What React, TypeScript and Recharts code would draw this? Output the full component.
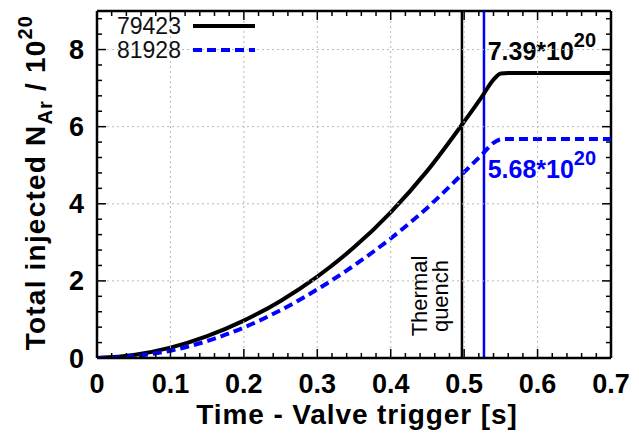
import React from "react";
import { LineChart, Line, XAxis, YAxis, ReferenceLine, ReferenceDot, Legend } from "recharts";

const FONT = "'Liberation Sans', Arial, Helvetica, sans-serif";
const BLUE = "#0000ff";

// time after valve trigger [s]
const times = [0, 0.05, 0.1, 0.15, 0.2, 0.25, 0.3, 0.35, 0.4, 0.45, 0.5, 0.525, 0.54, 0.55, 0.56, 0.7];
// total injected Ar atoms / 1e20
const shot79423 = [0, 0.08, 0.27, 0.57, 0.97, 1.48, 2.11, 2.87, 3.78, 4.86, 6.13, 6.8, 7.22, 7.38, 7.39, 7.39];
const shot81928 = [0, 0.05, 0.19, 0.44, 0.79, 1.24, 1.78, 2.4, 3.1, 3.9, 4.82, 5.29, 5.58, 5.67, 5.68, 5.68];

const seriesNames = ["79423", "81928"];
const seriesColors = ["#000000", BLUE];
const seriesDash = [undefined, "9 5"];

const quenchTimes = [0.497, 0.527];
const finalTotals = [7.39, 5.68];
const finalLabels = ["7.39*10", "5.68*10"];
const annotationTime = 0.532;

const xDomain = [0, 0.7];
const yDomain = [0, 9];
const xTicks = [0, 0.1, 0.2, 0.3, 0.4, 0.5, 0.6, 0.7];
const xMinorTicks = [
  0.02, 0.04, 0.06, 0.08, 0.12, 0.14, 0.16, 0.18, 0.22, 0.24, 0.26, 0.28,
  0.32, 0.34, 0.36, 0.38, 0.42, 0.44, 0.46, 0.48, 0.52, 0.54, 0.56, 0.58,
  0.62, 0.64, 0.66, 0.68,
];
const yTicks = [0, 2, 4, 6, 8];
const yMinorTicks = [0.4, 0.8, 1.2, 1.6, 2.4, 2.8, 3.2, 3.6, 4.4, 4.8, 5.2, 5.6, 6.4, 6.8, 7.2, 7.6, 8.4, 8.8];

const data = times.map((t, i) => ({ t, s1: shot79423[i], s2: shot81928[i] }));

// layout
const W = 639, H = 435;
const M = { top: 11, right: 28, bottom: 0, left: 0 };
const X_AXIS_H = 77, Y_AXIS_W = 97;
const PLOT_W = W - M.left - M.right - Y_AXIS_W;
const PLOT_H = H - M.top - M.bottom - X_AXIS_H;
const X_MARGIN = 16, Y_MARGIN = 13;

const isMajor = (list: number[], v: number) => list.some((t) => Math.abs(t - v) < 1e-9);
const GRID = { stroke: "#b8b8b8", strokeWidth: 1, strokeDasharray: "2 3" };
const TICK = { stroke: "#000", strokeWidth: 1.5 };
const labelFont = { fill: "#000", fontSize: 27, fontWeight: "bold" as const, fontFamily: FONT };

function XTick({ x, y, payload }: any) {
  const v = payload.value;
  const base = y - X_MARGIN;
  const top = base - PLOT_H;
  const major = isMajor(xTicks, v);
  const len = major ? 9 : 5;
  const inner = v > xDomain[0] + 1e-9 && v < xDomain[1] - 1e-9;
  return (
    <g>
      {major && inner && <line x1={x} x2={x} y1={base} y2={top} {...GRID} />}
      <line x1={x} x2={x} y1={base} y2={base - len} {...TICK} />
      <line x1={x} x2={x} y1={top} y2={top + len} {...TICK} />
      {major && (
        <text x={x} y={y} dy="0.71em" textAnchor="middle" {...labelFont}>
          {v === 0 ? "0" : v.toFixed(1)}
        </text>
      )}
    </g>
  );
}

function YTick({ x, y, payload }: any) {
  const v = payload.value;
  const left = x + Y_MARGIN;
  const right = left + PLOT_W;
  const major = isMajor(yTicks, v);
  const len = major ? 9 : 5;
  const inner = v > yDomain[0] + 1e-9 && v < yDomain[1] - 1e-9;
  return (
    <g>
      {major && inner && <line x1={left} x2={right} y1={y} y2={y} {...GRID} />}
      <line x1={left} x2={left + len} y1={y} y2={y} {...TICK} />
      <line x1={right} x2={right - len} y1={y} y2={y} {...TICK} />
      {major && (
        <text x={x} y={y} dy="0.355em" textAnchor="end" {...labelFont}>
          {v}
        </text>
      )}
    </g>
  );
}

function ShotLegend({ payload }: any) {
  return (
    <div style={{ fontFamily: FONT, fontSize: 23, lineHeight: "24px", color: "#111" }}>
      {(payload || []).map((p: any, i: number) => (
        <div key={i} style={{ display: "flex", alignItems: "center", height: 24 }}>
          <span style={{ width: 76 }}>{seriesNames[i]}</span>
          <svg width={64} height={10}>
            <line x1={0} x2={62} y1={5} y2={5} stroke={seriesColors[i]} strokeWidth={4} strokeDasharray={seriesDash[i]} />
          </svg>
        </div>
      ))}
    </div>
  );
}

function YTitle({ viewBox }: any) {
  const x = viewBox.x + 45;
  const y = viewBox.y + viewBox.height / 2 - 2;
  return (
    <text x={x} y={y} transform={`rotate(-90, ${x}, ${y})`} textAnchor="middle" fontFamily={FONT} fontSize={28}
      fontWeight="bold" letterSpacing={1.2} fill="#000">
      Total injected N<tspan dy={7} fontSize={20}>Ar</tspan>
      <tspan dy={-7}> / 10</tspan>
      <tspan dy={-13} fontSize={20}>20</tspan>
    </text>
  );
}

function XTitle({ viewBox }: any) {
  return (
    <text x={viewBox.x + viewBox.width / 2 + 3} y={viewBox.y + viewBox.height - 11} textAnchor="middle" fontFamily={FONT}
      fontSize={28} letterSpacing={0.9} fontWeight="bold" fill="#000">
      Time - Valve trigger [s]
    </text>
  );
}

function QuenchLabel({ viewBox }: any) {
  const cy = viewBox.y + viewBox.height - 62;
  const x1 = viewBox.x - 35;
  const x2 = viewBox.x - 14;
  const st = { fontFamily: FONT, fontSize: 22, fill: "#000" };
  return (
    <g>
      <text x={x1} y={cy} transform={`rotate(-90, ${x1}, ${cy})`} textAnchor="middle" {...st}>Thermal</text>
      <text x={x2} y={cy} transform={`rotate(-90, ${x2}, ${cy})`} textAnchor="middle" {...st}>quench</text>
    </g>
  );
}

function finalLabel(i: number, dy: number) {
  return ({ viewBox }: any) => (
    <text x={viewBox.x} y={viewBox.y + dy} fontFamily={FONT} fontSize={25} fontWeight="bold" fill={seriesColors[i]}>
      {finalLabels[i]}
      <tspan dy={-13} fontSize={20}>20</tspan>
    </text>
  );
}

const frame = { stroke: "#000", strokeWidth: 2.5 };

export default function App() {
  return (
    <div style={{ width: W, height: H, background: "#fff" }}>
      <style>{`body{margin:0}`}</style>
      <LineChart width={W} height={H} data={data} margin={M}>
        <XAxis xAxisId="x" dataKey="t" type="number" domain={xDomain} allowDataOverflow ticks={[...xTicks, ...xMinorTicks]}
          interval={0} tick={<XTick />} tickLine={false} tickSize={0} tickMargin={X_MARGIN} axisLine={frame}
          height={X_AXIS_H} label={<XTitle />} />
        <YAxis yAxisId="y" type="number" domain={yDomain} allowDataOverflow ticks={[...yTicks, ...yMinorTicks]} interval={0}
          tick={<YTick />} tickLine={false} tickSize={0} tickMargin={Y_MARGIN} axisLine={frame} width={Y_AXIS_W}
          label={<YTitle />} />
        <ReferenceLine xAxisId="x" yAxisId="y" y={yDomain[1]} stroke="#000" strokeWidth={2.5} ifOverflow="visible" />
        <ReferenceLine xAxisId="x" yAxisId="y" x={xDomain[1]} stroke="#000" strokeWidth={2.5} ifOverflow="visible" />
        <ReferenceLine xAxisId="x" yAxisId="y" x={quenchTimes[0]} stroke="#000" strokeWidth={2.5} label={<QuenchLabel />} />
        <ReferenceLine xAxisId="x" yAxisId="y" x={quenchTimes[1]} stroke={BLUE} strokeWidth={2.5} />
        <Line xAxisId="x" yAxisId="y" type="monotone" dataKey="s1" name={seriesNames[0]} stroke={seriesColors[0]} strokeWidth={4}
          dot={false} isAnimationActive={false} />
        <Line xAxisId="x" yAxisId="y" type="monotone" dataKey="s2" name={seriesNames[1]} stroke={seriesColors[1]} strokeWidth={4}
          strokeDasharray={seriesDash[1]} dot={false} isAnimationActive={false} />
        <ReferenceDot xAxisId="x" yAxisId="y" x={annotationTime} y={finalTotals[0]} r={0} fill="none" stroke="none" label={finalLabel(0, -13)} />
        <ReferenceDot xAxisId="x" yAxisId="y" x={annotationTime} y={finalTotals[1]} r={0} fill="none" stroke="none" label={finalLabel(1, 39)} />
        <Legend layout="vertical" align="center" verticalAlign="middle" content={<ShotLegend />}
          wrapperStyle={{ left: 117, top: 14, width: "auto", height: "auto" }} />
      </LineChart>
    </div>
  );
}
